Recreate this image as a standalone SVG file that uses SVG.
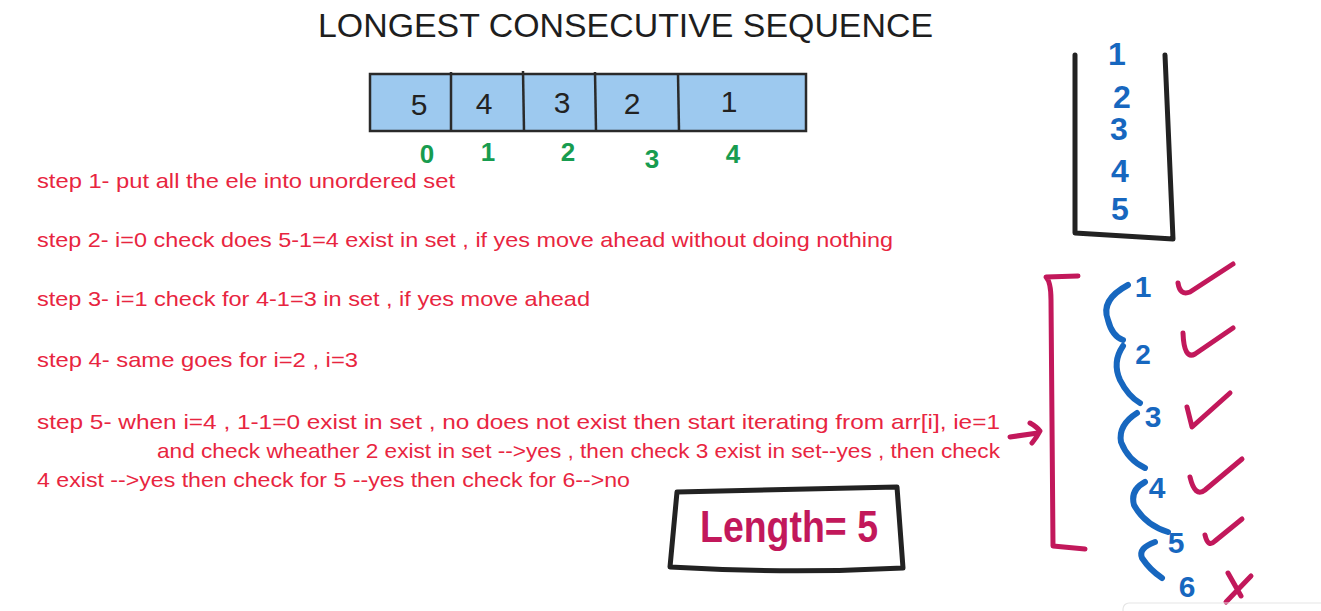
<svg xmlns="http://www.w3.org/2000/svg" width="1321" height="611" viewBox="0 0 1321 611">
<style>
.title{font-family:"Liberation Sans",Arial,sans-serif;font-size:33px;fill:#1e1e1e;}
.cellnum{font-family:"Liberation Sans",Arial,sans-serif;font-size:30px;fill:#222;text-anchor:middle;}
.idx{font-family:"Liberation Sans",Arial,sans-serif;font-size:26px;font-weight:bold;fill:#179c4f;text-anchor:middle;}
.step{font-family:"Liberation Sans Narrow","Liberation Sans",Arial,sans-serif;font-size:21px;fill:#e8253f;}
.blue{font-family:"Liberation Sans",Arial,sans-serif;font-weight:bold;fill:#1767bf;text-anchor:middle;}
.mag{fill:none;stroke:#c2185b;stroke-width:5;stroke-linecap:round;stroke-linejoin:round;}
.bl{fill:none;stroke:#1767bf;stroke-width:6;stroke-linecap:round;stroke-linejoin:round;}
.ink{fill:none;stroke:#222;stroke-width:5;stroke-linecap:round;stroke-linejoin:round;}
.cell{fill:#9dc9ef;stroke:#2a2a2a;stroke-width:2.5;}
</style>
<rect width="1321" height="611" fill="#ffffff"/>

<g id="title">
<text class="title" x="318" y="37" textLength="615" lengthAdjust="spacingAndGlyphs">LONGEST CONSECUTIVE SEQUENCE</text>
</g>

<g id="array">
<rect class="cell" x="370" y="74" width="436" height="57"/>
<line x1="451" y1="72" x2="451" y2="131" stroke="#2a2a2a" stroke-width="2.5"/>
<line x1="523" y1="71" x2="524" y2="131" stroke="#2a2a2a" stroke-width="2.5"/>
<line x1="595" y1="72" x2="596" y2="131" stroke="#2a2a2a" stroke-width="2.5"/>
<line x1="678" y1="74" x2="679" y2="131" stroke="#2a2a2a" stroke-width="2.5"/>
<text class="cellnum" x="419" y="115">5</text>
<text class="cellnum" x="484" y="114">4</text>
<text class="cellnum" x="562" y="113">3</text>
<text class="cellnum" x="632" y="114">2</text>
<text class="cellnum" x="729" y="112">1</text>
</g>

<g id="indices">
<text class="idx" x="427" y="163">0</text>
<text class="idx" x="488" y="161">1</text>
<text class="idx" x="568" y="161">2</text>
<text class="idx" x="652" y="168">3</text>
<text class="idx" x="733" y="163">4</text>
</g>

<g id="steps">
<text class="step" x="37" y="188" textLength="418" lengthAdjust="spacingAndGlyphs">step 1- put all the ele into unordered set</text>
<text class="step" x="37" y="247" textLength="856" lengthAdjust="spacingAndGlyphs">step 2- i=0 check does 5-1=4 exist in set , if yes move ahead without doing nothing</text>
<text class="step" x="37" y="306" textLength="553" lengthAdjust="spacingAndGlyphs">step 3- i=1 check for 4-1=3 in set , if yes move ahead</text>
<text class="step" x="37" y="367" textLength="321" lengthAdjust="spacingAndGlyphs">step 4- same goes for i=2 , i=3</text>
<text class="step" x="37" y="429" textLength="963" lengthAdjust="spacingAndGlyphs">step 5- when i=4 , 1-1=0 exist in set , no does not exist then start iterating from arr[i], ie=1</text>
<text class="step" x="157" y="458" textLength="843" lengthAdjust="spacingAndGlyphs">and check wheather 2 exist in set --&gt;yes , then check 3 exist in set--yes , then check</text>
<text class="step" x="37" y="487" textLength="593" lengthAdjust="spacingAndGlyphs">4 exist --&gt;yes then check for 5 --yes then check for 6--&gt;no</text>
</g>

<g id="set-container">
<path class="ink" d="M1075,55 L1075,233 L1173,239 L1165,55"/>
<text class="blue" x="1117" y="65" font-size="32">1</text>
<text class="blue" x="1122" y="108" font-size="32">2</text>
<text class="blue" x="1119" y="140" font-size="32">3</text>
<text class="blue" x="1120" y="182" font-size="32">4</text>
<text class="blue" x="1120" y="220" font-size="32">5</text>
</g>

<g id="bracket">
<path class="mag" d="M1078,276 L1046,277 Q1051,282 1051,300 L1053,546 L1085,549"/>
</g>

<g id="chain">
<text class="blue" x="1143" y="297" font-size="30">1</text>
<text class="blue" x="1143" y="364" font-size="28">2</text>
<text class="blue" x="1153" y="427" font-size="30">3</text>
<text class="blue" x="1157" y="498" font-size="30">4</text>
<text class="blue" x="1176" y="553" font-size="30">5</text>
<text class="blue" x="1187" y="597" font-size="30">6</text>
</g>

<g id="checks">
<path class="mag" d="M1178,283 Q1180,296 1190,292 L1233,264"/>
<path class="mag" d="M1183,333 Q1184,360 1195,354 L1233,328"/>
<path class="mag" d="M1187,407 L1192,427 L1230,393"/>
<path class="mag" d="M1190,477 Q1195,498 1205,490 L1242,459"/>
<path class="mag" d="M1205,535 Q1208,548 1215,541 L1242,519"/>
<path class="mag" d="M1228,573 L1241,596 M1226,602 L1251,576"/>
</g>

<g id="length-box">
<path class="ink" d="M677,492 Q780,490 897,487 L903,568 Q790,574 670,567 L677,492"/>
<text x="700" y="542" font-family="Liberation Sans,Arial,sans-serif" font-size="44" font-weight="bold" fill="#c2185b" textLength="178" lengthAdjust="spacingAndGlyphs">Length= 5</text>
</g>

<g id="connectors">
<path class="bl" d="M1128,285 Q1100,300 1108,320 Q1112,336 1123,340"/>
<path class="bl" d="M1123,346 Q1112,362 1120,380 Q1128,396 1140,403"/>
<path class="bl" d="M1137,413 Q1118,425 1121,442 Q1128,460 1145,468"/>
<path class="bl" d="M1145,482 Q1130,490 1134,505 Q1145,525 1168,532"/>
<path class="bl" d="M1155,542 Q1138,548 1142,558 Q1150,570 1162,578"/>
<path class="mag" d="M1010,437 L1038,433 M1030,423 Q1037,427 1040,431 Q1037,437 1032,443"/>
</g>

<rect x="1123" y="603" width="220" height="30" rx="6" fill="none" stroke="#e6e6e6" stroke-width="1.2"/>
</svg>
